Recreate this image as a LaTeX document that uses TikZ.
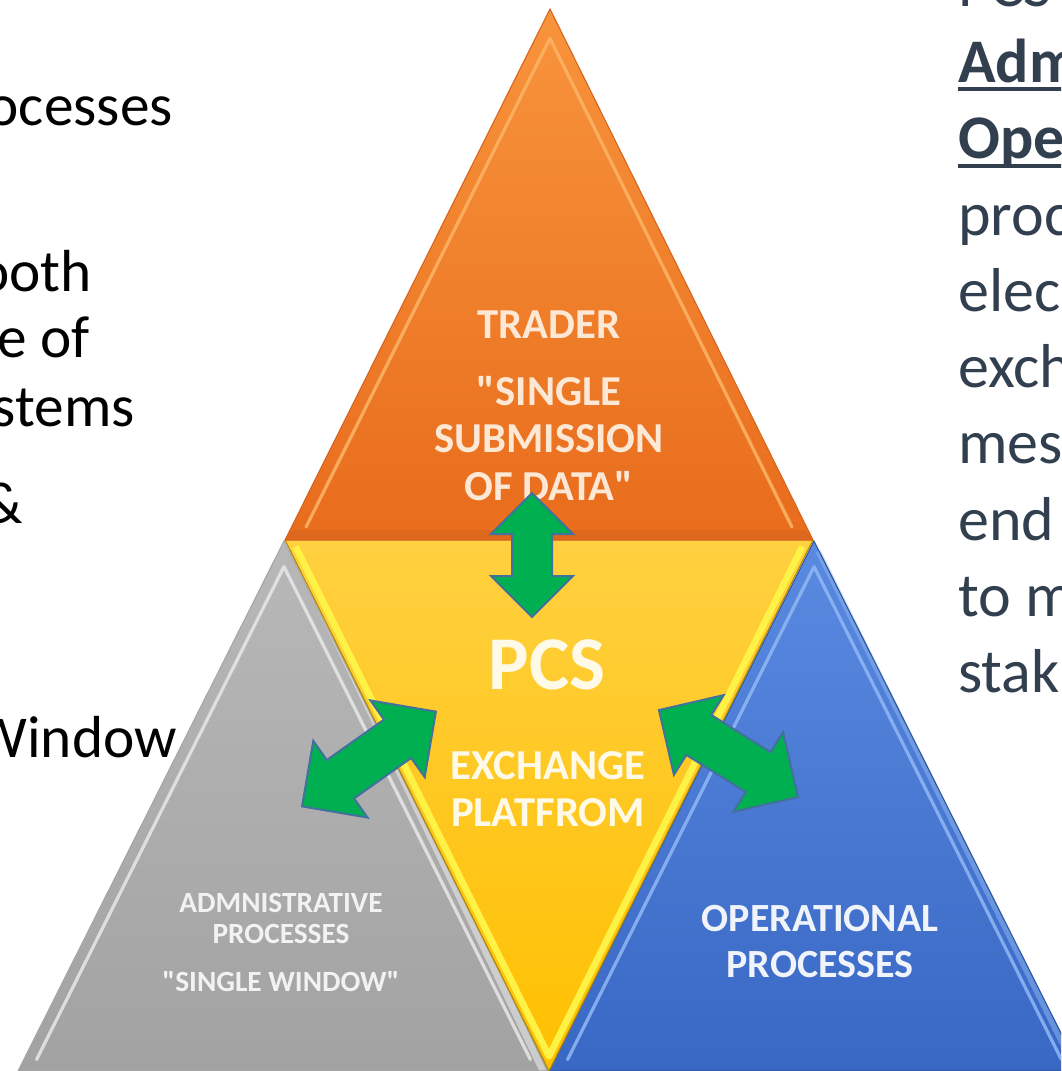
\documentclass[tikz,border=0pt]{standalone}
\usepackage{fontspec}
\setmainfont{Carlito}[Ligatures=TeXOff]
\usetikzlibrary{calc,shapes.arrows}
\definecolor{slate}{RGB}{50,63,79}
\definecolor{oTop}{RGB}{248,148,60}
\definecolor{oBot}{RGB}{232,108,28}
\definecolor{oEdge}{RGB}{214,100,30}
\definecolor{oHi}{RGB}{252,178,100}
\definecolor{yTop}{RGB}{255,208,64}
\definecolor{yBot}{RGB}{255,192,0}
\definecolor{yHi}{RGB}{255,242,70}
\definecolor{gTop}{RGB}{184,184,184}
\definecolor{gBot}{RGB}{162,162,162}
\definecolor{gHi}{RGB}{232,232,232}
\definecolor{bTop}{RGB}{90,138,224}
\definecolor{bBot}{RGB}{56,104,196}
\definecolor{bHi}{RGB}{146,184,244}
\definecolor{arrowgreen}{RGB}{0,176,80}
\definecolor{arrowline}{RGB}{65,113,156}
\definecolor{oTxt}{RGB}{253,232,214}
\definecolor{yTxt}{RGB}{255,250,232}
\definecolor{gTxt}{RGB}{242,242,242}
\definecolor{bTxt}{RGB}{240,244,250}
\begin{document}
\begin{tikzpicture}[x=0.75pt,y=-0.75pt,
  lefttxt/.style={font=\fontsize{44.5}{53}\selectfont, text=black, inner sep=0pt, anchor=base east},
  righttxt/.style={font=\fontsize{46.5}{56}\selectfont, text=slate, inner sep=0pt, anchor=base west},
  tritxt/.style={inner sep=0pt, anchor=base},
  ulstyle/.style={draw=slate, line width=3pt},
  dblarr/.style={double arrow, draw=arrowline, fill=arrowgreen, line width=1.5pt,
    inner xsep=0pt, double arrow tip angle=90},
  hi/.style={line width=2.4pt, line cap=round, line join=round}]
\useasboundingbox (0,0) rectangle (1061,1071);
\clip (0,0) rectangle (1061,1071);
\fill[white] (0,0) rectangle (1061,1071);

% corner coordinates
\coordinate (oA) at (550,9);   \coordinate (oL) at (285,540); \coordinate (oR) at (813,540);
\coordinate (oI) at (549,376);
\coordinate (yL) at (285,540); \coordinate (yR) at (813,540); \coordinate (yB) at (549,1071);
\coordinate (yI) at (549,704);
\coordinate (gA) at (284,541); \coordinate (gL) at (18,1071);  \coordinate (gR) at (549,1071);
\coordinate (gI) at (283.5,907);
\coordinate (bA) at (814,541); \coordinate (bL) at (549,1071); \coordinate (bR) at (1080,1071);
\coordinate (bI) at (814.5,907);

% gray triangle
\shade[top color=gTop, bottom color=gBot] (gA)--(gL)--(gR)--cycle;
\draw[gHi, hi, opacity=0.85] ($(gI)!0.93!(gL)$) -- ($(gI)!0.93!(gA)$) -- ($(gI)!0.93!(gR)$);
\draw[gHi, line width=5pt, opacity=0.6] ($(gA)!0.03!(gR)+(4,0)$) -- ($(gR)+(-6,0)$);
\draw[gray!70, line width=0.8pt] (gA)--(gL)--(gR)--cycle;

% blue triangle
\shade[top color=bTop, bottom color=bBot] (bA)--(bL)--(bR)--cycle;
\draw[bHi, hi, opacity=0.85] ($(bI)!0.93!(bL)$) -- ($(bI)!0.93!(bA)$) -- ($(bI)!0.93!(bR)$);
\draw[bHi, line width=4pt, opacity=0.5] ($(bA)+(4,10)$) -- ($(bR)+(-4,0)$);
\draw[bBot!80!black, line width=0.8pt] (bA)--(bL)--(bR)--cycle;

% yellow triangle
\shade[top color=yTop, bottom color=yBot] (yL)--(yR)--(yB)--cycle;
\draw[yHi, line width=5pt, line join=round] ($(yI)!0.96!(yL)$) -- ($(yI)!0.96!(yB)$) -- ($(yI)!0.96!(yR)$);
\draw[yBot!70!black, line width=0.8pt] (yL)--(yB)--(yR);

% orange triangle
\shade[top color=oTop, bottom color=oBot] (oA)--(oL)--(oR)--cycle;
\fill[oEdge, opacity=0.6] ($(oL)+(8,-10)$) -- ($(oR)+(-8,-10)$) -- (oR) -- (oL) -- cycle;
\draw[oHi, hi, opacity=0.9] ($(oI)!0.92!(oL)$) -- ($(oI)!0.92!(oA)$) -- ($(oI)!0.92!(oR)$);
\draw[oEdge, line width=0.8pt] (oA)--(oL)--(oR)--cycle;

% texts in triangles
\node[tritxt, text=oTxt, font=\bfseries\fontsize{32}{38}\selectfont] (t1) at (549,338) {TRADER};
\node[tritxt, text=oTxt, font=\bfseries\fontsize{32}{38}\selectfont] (t2) at (549,405) {"SINGLE};
\node[tritxt, text=oTxt, font=\bfseries\fontsize{32}{38}\selectfont] (t3) at (549,452) {SUBMISSION};
\node[tritxt, text=oTxt, font=\bfseries\fontsize{32}{38}\selectfont] (t4) at (549,500) {OF DATA"};
\node[tritxt, text=yTxt, font=\bfseries\fontsize{57}{66}\selectfont] (p1) at (547,689) {PCS};
\node[tritxt, text=yTxt, font=\bfseries\fontsize{32}{38}\selectfont] (p2) at (548,779) {EXCHANGE};
\node[tritxt, text=yTxt, font=\bfseries\fontsize{32}{38}\selectfont] (p3) at (548,826) {PLATFROM};
\node[tritxt, text=gTxt, font=\bfseries\fontsize{22}{26}\selectfont] (a1) at (281,912) {ADMNISTRATIVE};
\node[tritxt, text=gTxt, font=\bfseries\fontsize{22}{26}\selectfont] (a2) at (281,943) {PROCESSES};
\node[tritxt, text=gTxt, font=\bfseries\fontsize{22}{26}\selectfont] (a3) at (281,991) {"SINGLE WINDOW"};
\node[tritxt, text=bTxt, font=\bfseries\fontsize{30}{36}\selectfont] (o1) at (820,931) {OPERATIONAL};
\node[tritxt, text=bTxt, font=\bfseries\fontsize{30}{36}\selectfont] (o2) at (820,977) {PROCESSES};

% green double arrows (shaft width = 2 x inner ysep)
\node[dblarr, rotate=90, minimum height=93pt, minimum width=60pt, inner ysep=14.25pt,
      double arrow head extend=15.75pt] (arrT) at (532,555) {};
\node[dblarr, rotate=35.3, minimum height=123pt, minimum width=69pt, inner ysep=16.9pt,
      double arrow head extend=17.6pt] (arrL) at (369,759) {};
\node[dblarr, rotate=-32, minimum height=123pt, minimum width=69pt, inner ysep=16.9pt,
      double arrow head extend=17.6pt] (arrR) at (728.5,753.5) {};

% left text (cut at left edge)
\node[lefttxt] (l1) at (173,125) {ocesses};
\node[lefttxt] (l2) at (92,291) {ooth};
\node[lefttxt] (l3) at (90,357) {e of};
\node[lefttxt] (l4) at (135,426) {stems};
\node[lefttxt] (l5) at (23,523) {\&};
\node[lefttxt] (l6) at (177,757) {Window};

% right text (cut at right edge)
\node[righttxt] (r0) at (958,6) {PCS};
\node[righttxt, font=\bfseries\fontsize{46.5}{56}\selectfont] (r1) at (958,82) {Adm};
\node[righttxt, font=\bfseries\fontsize{46.5}{56}\selectfont] (r2) at (958,158) {Ope};
\node[righttxt] (r3) at (958,235) {proc};
\node[righttxt] (r4) at (958,311) {elec};
\node[righttxt] (r5) at (958,387) {exch};
\node[righttxt] (r6) at (958,463) {mes};
\node[righttxt] (r7) at (958,540) {end};
\node[righttxt] (r8) at (958,616) {to m};
\node[righttxt] (r9) at (958,692) {stak};
\draw[ulstyle] ($(r1.base west)+(0,7)$) -- ($(r1.base east)+(0,7)$);
\draw[ulstyle] ($(r2.base west)+(0,8)$) -- ($(r2.base east)+(0,8)$);
\end{tikzpicture}
\end{document}
